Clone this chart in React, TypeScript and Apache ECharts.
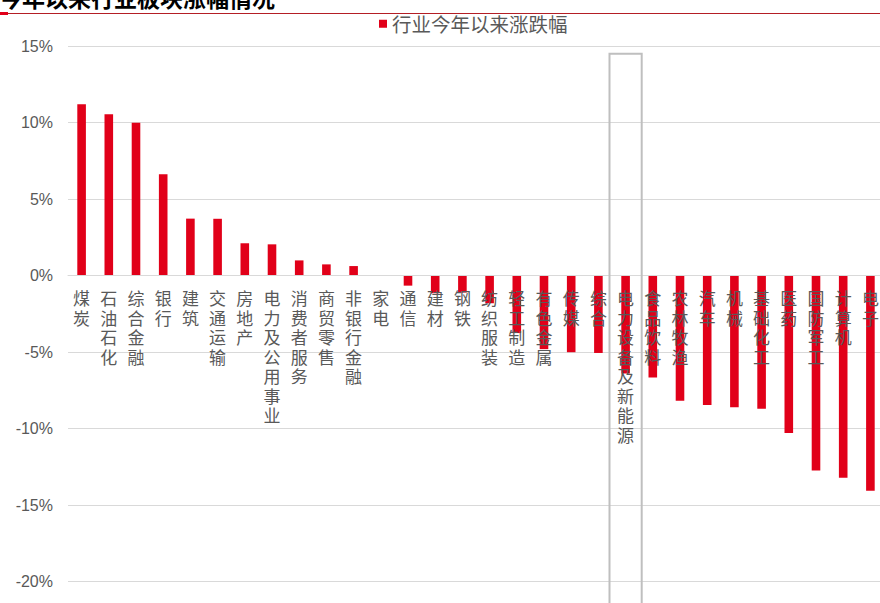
import React, { useEffect, useRef } from "react";
import * as echarts from "echarts";

// Industry names (CITIC level-1), sorted by year-to-date change
const industries = [
  "煤炭", "石油石化", "综合金融", "银行", "建筑", "交通运输", "房地产",
  "电力及公用事业", "消费者服务", "商贸零售", "非银行金融", "家电", "通信",
  "建材", "钢铁", "纺织服装", "轻工制造", "有色金属", "传媒", "综合",
  "电力设备及新能源", "食品饮料", "农林牧渔", "汽车", "机械", "基础化工",
  "医药", "国防军工", "计算机", "电子",
];

// Year-to-date change, %
const ytdChange = [
  11.2, 10.55, 10.0, 6.63, 3.73, 3.72, 2.12, 2.05, 1.0, 0.74, 0.63, -0.02,
  -0.65, -1.15, -1.1, -1.8, -3.75, -4.8, -5.0, -5.05, -6.4, -6.65, -8.17,
  -8.45, -8.6, -8.7, -10.28, -12.73, -13.2, -14.05,
];

// Value axis range and step, %
const yMin = -20;
const yMax = 15;
const yStep = 5;

const seriesName = "行业今年以来涨跌幅";
const titleText = "今年以来行业板块涨幅情况";

// Industry framed by the grey highlight box, and the value where the frame starts
const highlighted = "电力设备及新能源";
const highlightTop = 14.5;

const RED = "#E10019";
const LABEL_GREY = "#595959";
const GRID_GREY = "#D9D9D9";
const CJK = "'Noto Sans CJK SC', sans-serif";

export default function App() {
  const ref = useRef<HTMLDivElement>(null);

  useEffect(() => {
    if (!ref.current) return;
    const chart = echarts.init(ref.current, null, { renderer: "svg" });

    chart.setOption({
      animation: false,
      backgroundColor: "#fff",
      grid: {
        left: 68,
        top: 46.2,
        width: 816,
        height: 535.5,
        containLabel: false,
        outerBoundsMode: "none",
      },
      legend: {
        data: [seriesName],
        left: 379,
        top: 14,
        padding: 0,
        icon: "rect",
        itemWidth: 8,
        itemHeight: 8,
        textStyle: { color: LABEL_GREY, fontSize: 19.5, fontFamily: CJK },
      },
      xAxis: {
        type: "category",
        data: industries,
        z: 3,
        axisLine: { show: true, onZero: false, lineStyle: { color: GRID_GREY, width: 1 } },
        axisTick: { show: false },
        axisLabel: {
          interval: 0,
          margin: 12.5,
          color: LABEL_GREY,
          fontSize: 17,
          lineHeight: 19.5,
          fontFamily: CJK,
          formatter: (name: string) => name.split("").join("\n"),
        },
        splitLine: { show: false },
      },
      yAxis: {
        type: "value",
        min: yMin,
        max: yMax,
        interval: yStep,
        axisLine: { show: false },
        axisTick: { show: false },
        axisLabel: {
          margin: 15,
          color: LABEL_GREY,
          fontSize: 16,
          fontFamily: "Arial, 'Liberation Sans', sans-serif",
          formatter: (v: number) => `${v}%`,
        },
        splitLine: { show: true, lineStyle: { color: GRID_GREY, width: 1 } },
      },
      series: [
        {
          name: seriesName,
          type: "bar",
          data: ytdChange,
          barWidth: 8.6,
          itemStyle: { color: RED },
        },
      ],
      graphic: [
        {
          type: "text",
          id: "title",
          left: -1,
          top: -15,
          style: {
            text: titleText,
            fill: "#000",
            font: `bold 23px ${CJK}`,
          },
        },
        {
          type: "line",
          id: "rule",
          shape: { x1: 8, y1: 13.5, x2: 880, y2: 13.5 },
          style: { stroke: "#B41E25", lineWidth: 1 },
        },
        {
          type: "rect",
          id: "ruleAccent",
          shape: { x: 0, y: 12, width: 8, height: 3 },
          style: { fill: RED },
        },
      ],
    });

    // Move the category axis (line and labels) up to the zero level of the value axis
    const zeroY = chart.convertToPixel({ yAxisIndex: 0 }, 0) as number;
    const bottomY = chart.convertToPixel({ yAxisIndex: 0 }, yMin) as number;

    // Frame around the highlighted industry, placed through the axes' own scales
    const [cx, topY] = chart.convertToPixel({ gridIndex: 0 }, [highlighted, highlightTop]) as number[];
    const [nextX] = chart.convertToPixel({ gridIndex: 0 }, [industries[industries.indexOf(highlighted) + 1], 0]) as number[];
    const band = nextX - cx;
    const boxW = band + 5;
    chart.setOption({
      xAxis: { offset: zeroY - bottomY },
      graphic: [
        {
          type: "rect",
          id: "highlightBox",
          z: 10,
          shape: { x: cx - boxW / 2, y: topY, width: boxW, height: 620 - topY },
          style: { fill: "none", stroke: "#BFBFBF", lineWidth: 2 },
        },
      ],
    });

    return () => chart.dispose();
  }, []);

  return (
    <div
      ref={ref}
      style={{ position: "fixed", left: 0, top: 0, width: 880, height: 603 }}
    />
  );
}
